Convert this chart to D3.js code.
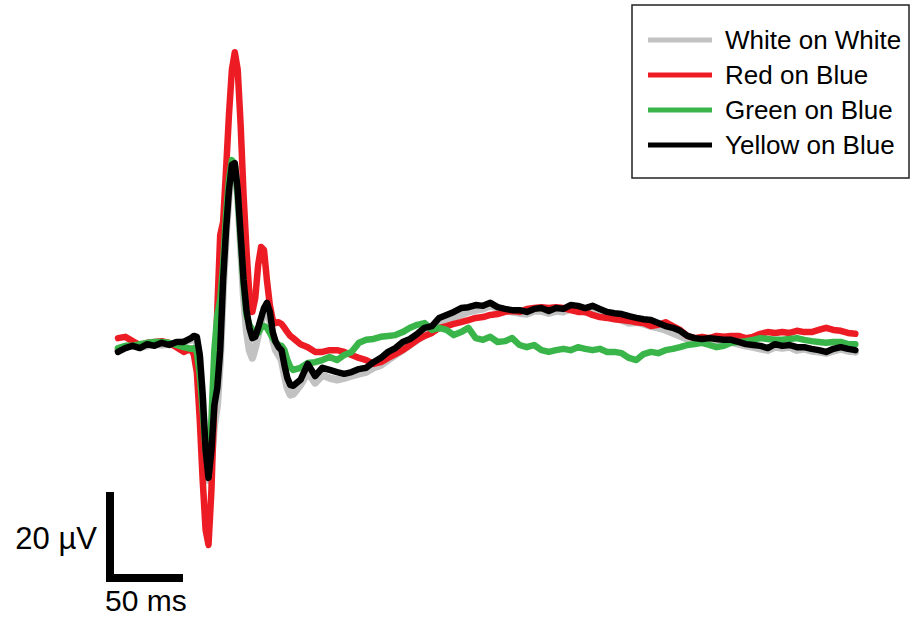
<!DOCTYPE html>
<html>
<head>
<meta charset="utf-8">
<script src="https://cdn.jsdelivr.net/npm/d3@7"></script>
<style>
  body { margin: 0; background: #fff; }
  svg { display: block; font-family: "Liberation Sans", Arial, sans-serif; }
</style>
</head>
<body>
<svg id="erp-svg" width="911" height="619"></svg>
<script>
// time axis in ms (denser around the main response)
const timeMs = [0, 5, 10, 15, 20, 25, 30, 35, 40, 45, 50,
  52, 54, 56, 58, 60, 62, 64, 66, 68, 70,
  72, 74, 76, 78, 80, 82, 84, 86, 88, 90,
  92, 94, 96, 98, 100, 102, 104, 106, 108, 110,
  112, 114, 116, 118, 120,
  125, 130, 135, 140, 145, 150, 155, 160, 165, 170,
  175, 180, 185, 190, 195, 200, 205, 210, 215, 220,
  225, 230, 235, 240, 245, 250, 255, 260, 265, 270,
  275, 280, 285, 290, 295, 300, 305, 310, 315, 320,
  325, 330, 335, 340, 345, 350, 355, 360, 365, 370,
  375, 380, 385, 390, 395, 400, 405, 410, 415, 420,
  425, 430, 435, 440, 445, 450, 455, 460, 465, 470,
  475, 480, 485, 490, 495, 500, 505];

// amplitudes in µV, one per time point
const whiteOnWhite = [-1.2, -0.5, 0, -0.5, -0.2, 0.2, 0, 0.2, 0.5, 0.7, 1.2,
  1.2, 0.7, -3.0, -12.8, -24.9, -31.4, -26.7, -18.6, -14.0, -3.5,
  12.8, 25.6, 34.9, 40.7, 41.2, 34.9, 23.3, 11.6, 3.5, -1.2,
  -3.0, -0.7, 2.3, 5.3, 7.7, 8.1, 5.8, 1.2, -1.2, -2.3,
  -3.5, -7.0, -10.0, -11.6, -11.4,
  -9.3, -6.3, -8.8, -7.0, -7.7, -8.1, -7.7, -7.2, -6.7, -6.3,
  -5.3, -4.7, -3.5, -2.3, -1.2, 0, 1.2, 2.3, 3.0, 4.4,
  5.3, 6.3, 7.0, 7.7, 8.1, 8.4, 9.1, 8.6, 8.1, 7.7,
  7.4, 7.2, 7.9, 7.9, 7.4, 7.9, 7.7, 8.4, 8.1, 7.7,
  7.9, 7.4, 6.7, 6.3, 5.8, 5.1, 5.3, 4.9, 4.4, 4.0,
  3.5, 2.8, 2.1, 1.4, 0.9, 0.9, 1.2, 0.9, 0.7, 0.7,
  0.2, -0.2, -0.5, -0.9, -1.2, -0.5, -0.7, -0.5, -1.2, -0.9,
  -1.4, -1.6, -1.9, -1.4, -0.9, -1.4, -1.6];

const redOnBlue = [1.6, 1.9, 0.9, 0, 0.5, 0.7, 0.9, 0.5, -0.5, -1.6, -0.9,
  -2.3, -6.3, -17.4, -31.4, -43.0, -46.5, -33.7, -12.8, 8.1, 25.6,
  28.6, 40.7, 53.5, 64.0, 68.1, 64.0, 51.2, 34.9, 22.1, 11.6,
  7.7, 10.9, 18.6, 22.8, 22.1, 15.1, 9.3, 5.8, 5.1, 5.3,
  4.9, 4.0, 3.0, 2.1, 1.6,
  0.2, -0.5, -1.6, -1.6, -1.2, -1.2, -1.6, -2.3, -3.0, -3.5,
  -4.4, -4.0, -3.0, -2.1, -1.2, 0, 1.2, 2.1, 2.8, 4.0,
  4.4, 4.9, 5.3, 5.8, 6.3, 6.5, 7.0, 7.2, 7.7, 7.9,
  7.7, 8.4, 8.6, 8.8, 8.6, 8.8, 8.6, 8.1, 7.7, 7.7,
  7.0, 6.5, 6.3, 6.0, 5.8, 5.6, 5.3, 5.1, 4.4, 4.7,
  5.3, 4.4, 3.5, 2.1, 1.6, 1.9, 1.6, 2.1, 1.9, 2.1,
  2.1, 1.6, 1.9, 2.6, 3.0, 2.8, 3.0, 2.8, 3.3, 3.0,
  3.0, 3.5, 4.0, 3.5, 3.3, 2.8, 2.6];

const greenOnBlue = [-0.7, -0.2, -0.2, 0.2, 0.5, 0.7, 0.7, 0.5, 0, -0.5, -0.9,
  -0.7, -1.6, -7.0, -15.1, -24.4, -29.1, -17.4, -1.2, 7.0, 10.5,
  18.6, 30.2, 38.4, 43.0, 41.9, 34.9, 24.4, 14.0, 7.0, 4.7,
  3.5, 2.6, 2.8, 4.0, 4.4, 4.0, 2.8, 1.6, 0.7, 0,
  -0.2, -1.2, -3.5, -5.1, -5.8,
  -5.3, -4.2, -4.0, -3.5, -2.8, -3.5, -2.3, -1.6, 0.5, 1.2,
  1.4, 1.9, 2.1, 2.3, 3.0, 4.0, 4.7, 5.1, 3.5, 4.0,
  3.5, 2.3, 3.0, 4.0, 1.6, 1.2, 1.9, 0.7, 0.9, 1.6,
  0, -0.5, 0, -1.2, -1.6, -1.2, -0.9, -1.2, -0.5, -0.9,
  -1.2, -0.9, -1.6, -1.6, -1.9, -3.0, -3.5, -2.1, -1.6, -1.9,
  -1.2, -0.9, -0.5, 0, 0.2, 0.5, 0, -0.5, -0.2, 0.5,
  0.7, 0.9, 1.2, 1.6, 1.4, 1.2, 1.2, 1.4, 1.6, 1.2,
  0.9, 0.7, 0.5, 0.7, 0.7, 0.2, 0.2];

const yellowOnBlue = [-1.6, -0.7, -0.2, -0.7, 0.2, -0.2, 0.5, 0, 0.7, 0.7, 1.6,
  2.1, 1.9, -2.3, -11.6, -24.4, -30.9, -24.4, -14.0, -10.0, -1.2,
  15.1, 26.7, 36.0, 41.9, 42.3, 36.0, 25.6, 15.1, 8.1, 4.0,
  1.6, 1.9, 4.0, 6.3, 8.6, 9.8, 7.7, 3.0, 0.7, -0.5,
  -1.2, -4.7, -7.7, -9.3, -9.5,
  -8.1, -4.4, -7.2, -5.3, -5.8, -6.3, -6.7, -6.3, -5.6, -5.3,
  -4.0, -3.0, -1.6, -0.7, 0.7, 1.4, 2.6, 4.0, 4.4, 6.3,
  7.0, 7.7, 8.6, 8.8, 9.3, 9.1, 9.8, 8.8, 8.4, 8.1,
  8.1, 7.7, 8.4, 8.6, 7.9, 8.6, 8.4, 9.3, 9.1, 8.6,
  9.1, 8.4, 7.7, 7.4, 7.2, 6.7, 6.3, 6.0, 5.8, 5.1,
  4.4, 4.0, 3.3, 2.1, 1.6, 1.4, 1.6, 1.4, 1.2, 1.2,
  0.7, 0.2, 0, -0.2, -0.7, 0.2, -0.2, 0, -0.5, -0.5,
  -0.9, -1.2, -1.6, -0.9, -0.5, -0.9, -1.2];

const seriesNames = ["White on White", "Red on Blue", "Green on Blue", "Yellow on Blue"];
const seriesValues = [whiteOnWhite, redOnBlue, greenOnBlue, yellowOnBlue];
const seriesColors = ["#c2c2c2", "#ed1c24", "#39b54a", "#000000"];
const seriesWidths = [7.5, 6.5, 6.5, 6.5];

// scale bar values
const barMs = 50;
const barUv = 20;

const svg = d3.select("#erp-svg");

// 50 ms ~ 73px, 20 µV ~ 86px
const x = d3.scaleLinear().domain([0, 505]).range([118, 118 + 1.46 * 505]);
const y = d3.scaleLinear().domain([0, 20]).range([345, 259]);

const line = d3.line()
  .x((d, i) => x(timeMs[i]))
  .y(d => y(d));

// traces, gray first so black ends up on top
svg.append("g")
  .selectAll("path")
  .data(seriesValues)
  .join("path")
  .attr("d", d => line(d))
  .attr("fill", "none")
  .attr("stroke", (d, i) => seriesColors[i])
  .attr("stroke-width", (d, i) => seriesWidths[i])
  .attr("stroke-linejoin", "round")
  .attr("stroke-linecap", "round");

// scale bar, anchored at its own origin
const sx = d3.scaleLinear().domain([0, barMs]).range([110, 110 + 1.46 * barMs]);
const sy = d3.scaleLinear().domain([0, barUv]).range([578, 578 - 4.3 * barUv]);

svg.append("path")
  .attr("d", d3.line()([[sx(0), sy(barUv)], [sx(0), sy(0)], [sx(barMs), sy(0)]]))
  .attr("fill", "none")
  .attr("stroke", "#000")
  .attr("stroke-width", 8)
  .attr("stroke-linejoin", "miter");

svg.append("text")
  .attr("x", 97)
  .attr("y", 549)
  .attr("text-anchor", "end")
  .style("font-size", "31px")
  .text(`${barUv} µV`);

svg.append("text")
  .attr("x", 105)
  .attr("y", 611)
  .style("font-size", "30px")
  .text(`${barMs} ms`);

// legend
const legend = svg.append("g");

legend.append("rect")
  .attr("x", 632)
  .attr("y", 5)
  .attr("width", 277)
  .attr("height", 173)
  .attr("fill", "#fff")
  .attr("stroke", "#222")
  .attr("stroke-width", 1.5);

const items = legend.selectAll("g.item")
  .data(seriesNames)
  .join("g")
  .attr("class", "item")
  .attr("transform", (d, i) => `translate(0,${40 + i * 35})`);

items.append("line")
  .attr("x1", 648)
  .attr("x2", 712)
  .attr("stroke", (d, i) => seriesColors[i])
  .attr("stroke-width", 5);

items.append("text")
  .attr("x", 725)
  .attr("y", 9)
  .style("font-size", "26px")
  .text(d => d);
</script>
</body>
</html>
